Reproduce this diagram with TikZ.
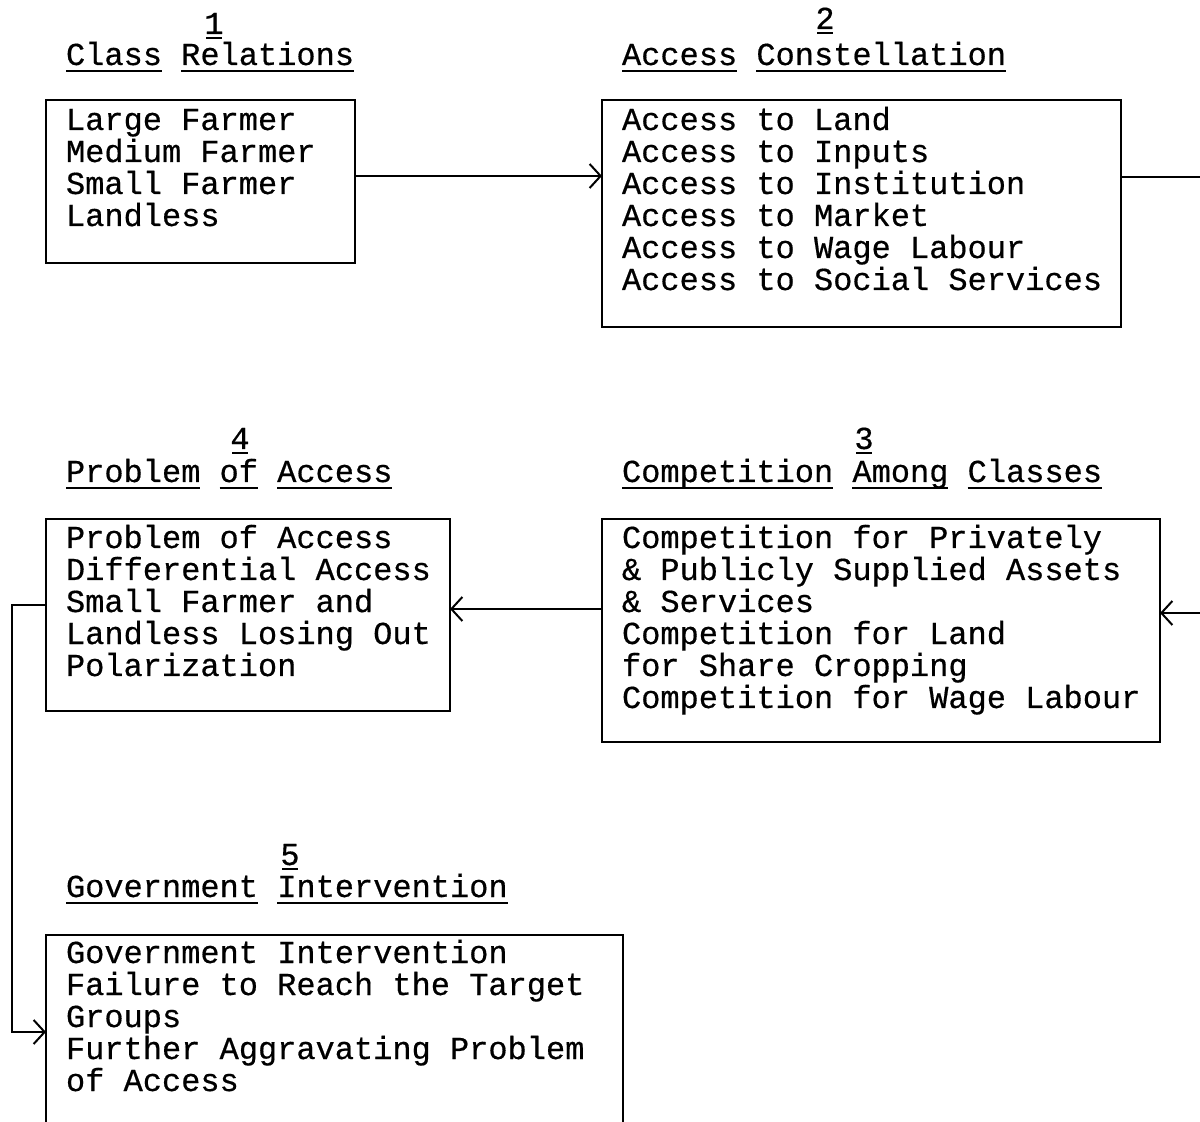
\documentclass[tikz,border=0pt]{standalone}
\usepackage{fontspec}
\newfontfamily\tw[FakeBold=0.5]{Liberation Mono}
\usetikzlibrary{arrows.meta,fit}
% word-by-word underline, drawn at a fixed depth below the baseline
\newcommand\wul[1]{\setbox0\hbox{#1}\rlap{\rule[-3.6pt]{\wd0}{1pt}}\box0\relax}
% shorter, closer underline for the section numbers
\newcommand\nul[1]{\setbox0\hbox{#1}\rlap{\hspace{1pt}\rule[-2.6pt]{\dimexpr\wd0-2pt\relax}{1pt}}\box0\relax}
\newcommand\firstline{\rule{0pt}{14pt}}
\begin{document}
\begin{tikzpicture}[x=0.5pt,y=-0.5pt,
  every node/.style={inner sep=0pt, outer sep=0pt},
  box/.style={draw, line width=1pt},
  txt/.style={anchor=north west, align=left, font=\tw\fontsize{16}{16}\selectfont},
  head/.style={anchor=base west, font=\tw\fontsize{16}{16}\selectfont},
  num/.style={anchor=base, font=\tw\fontsize{16}{16}\selectfont},
  conn/.style={line width=1pt, -{Straight Barb[length=5.5pt,width=12pt,line width=1pt]}},
  plain/.style={line width=1pt}]
\useasboundingbox (0,0) rectangle (1200,1122);

% section headings with their numbers
\node[num]  (n1) at (214,34)  {\nul{1}};
\node[head] (h1) at (66,65)   {\wul{Class} \wul{Relations}};
\node[num]  (n2) at (825,29)  {\nul{2}};
\node[head] (h2) at (622,65)  {\wul{Access} \wul{Constellation}};
\node[num]  (n3) at (864,449) {\nul{3}};
\node[head] (h3) at (622,482) {\wul{Competition} \wul{Among} \wul{Classes}};
\node[num]  (n4) at (240,449) {\nul{4}};
\node[head] (h4) at (66,482)  {\wul{Problem} \wul{of} \wul{Access}};
\node[num]  (n5) at (290,865) {\nul{5}};
\node[head] (h5) at (66,897)  {\wul{Government} \wul{Intervention}};

% frames
\node[box, fit={(46,100) (355,263)}]   (b1) {};
\node[box, fit={(602,100) (1121,327)}] (b2) {};
\node[box, fit={(602,519) (1160,742)}] (b3) {};
\node[box, fit={(46,519) (450,711)}]   (b4) {};
\node[box, fit={(46,935) (623,1140)}]  (b5) {};

% frame contents
\node[txt] (t1) at (66,102) {\firstline Large Farmer\\Medium Farmer\\Small Farmer\\Landless};
\node[txt] (t2) at (622,102) {\firstline Access to Land\\Access to Inputs\\Access to Institution\\Access to Market\\Access to Wage Labour\\Access to Social Services};
\node[txt] (t3) at (622,520) {\firstline Competition for Privately\\\& Publicly Supplied Assets\\\& Services\\Competition for Land\\for Share Cropping\\Competition for Wage Labour};
\node[txt] (t4) at (66,520) {\firstline Problem of Access\\Differential Access\\Small Farmer and\\Landless Losing Out\\Polarization};
\node[txt] (t5) at (66,935) {\firstline Government Intervention\\Failure to Reach the Target\\Groups\\Further Aggravating Problem\\of Access};

% connector levels
\coordinate (y12) at (0,176);
\coordinate (e2)  at (1200,177);
\coordinate (e3)  at (1200,613);
\coordinate (y34) at (0,609);
\coordinate (y4)  at (0,605);
\coordinate (k1)  at (12,605);
\coordinate (k2)  at (12,1032);

% connectors
\draw[conn] (b1.east |- y12) -- (b2.west |- y12);
\draw[plain] (b2.east |- e2) -- (e2);
\draw[conn] (e3) -- (b3.east |- e3);
\draw[conn] (b3.west |- y34) -- (b4.east |- y34);
\draw[conn] (b4.west |- y4) -- (k1) -- (k2) -- (b5.west |- k2);
\end{tikzpicture}
\end{document}
